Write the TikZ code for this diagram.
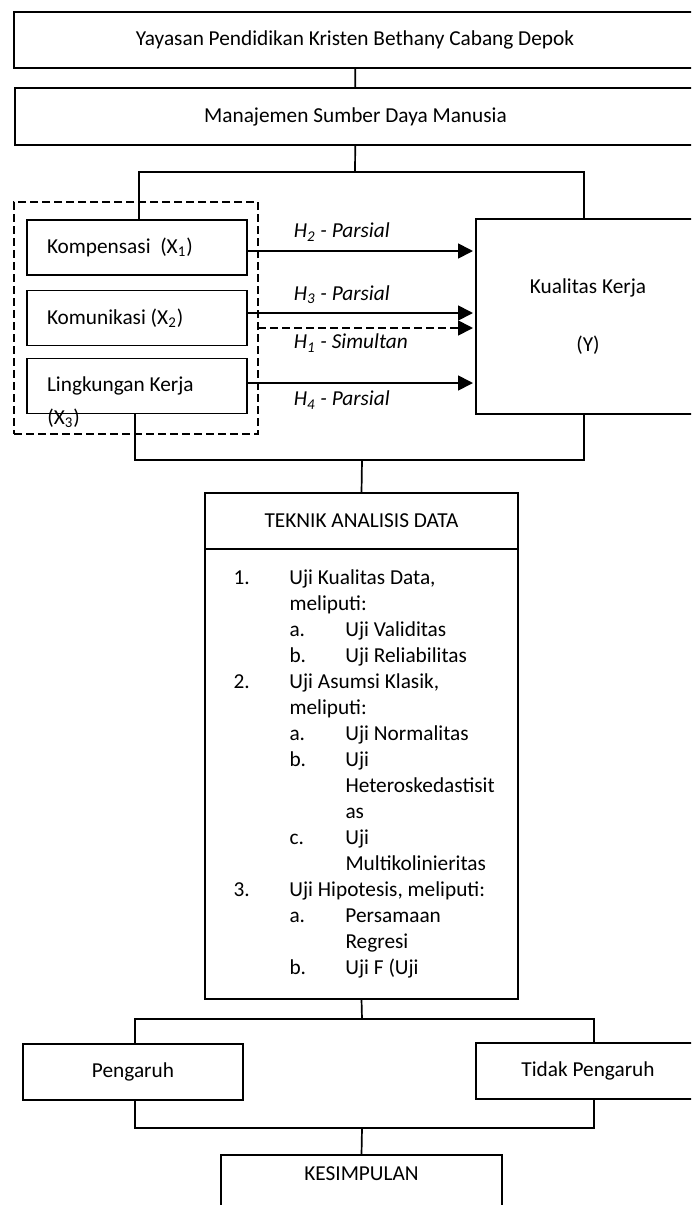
\documentclass[tikz,border=0pt]{standalone}
\usepackage{fontspec}
\setmainfont{Carlito}
\usetikzlibrary{arrows.meta,positioning}
\newcommand{\ujispan}[1]{\multicolumn{2}{@{}l@{}}{#1}}

\begin{document}
\begin{tikzpicture}[
    x=0.5pt, y=-0.5pt,
    every node/.style={font=\fontsize{10.65}{13}\selectfont},
    box/.style={draw, line width=0.85pt, inner sep=0pt, outer sep=0pt, align=center},
    varbox/.style={box, minimum width=110pt, minimum height=27.5pt,
        text width=90pt, inner xsep=10pt, align=flush left},
    link/.style={line width=0.85pt},
    arr/.style={line width=0.85pt, -{Triangle[length=7.5pt,width=7.5pt]},
        shorten >=1.5pt},
    lab/.style={font=\fontsize{10.65}{13}\selectfont\itshape,
        inner sep=0pt, anchor=west}
]
\useasboundingbox (0,0) rectangle (691,1205);
\clip (0,0) rectangle (691,1205);

% Institution
\node[box, minimum width=341pt, minimum height=28pt] (yys) at (355,40)
    {Yayasan Pendidikan Kristen Bethany Cabang Depok};
\node[box, minimum width=340.5pt, minimum height=28.5pt] (msdm) at (355.5,116.5)
    {Manajemen Sumber Daya Manusia};

\draw[link] (yys) -- (msdm);

% Independent variables
\node[varbox] (komp) at (137,247.5) {Kompensasi~~(X\textsubscript{1})};
\node[varbox] (komu) at (137,318) {Komunikasi (X\textsubscript{2})};
\node[varbox,
    label={[inner sep=0pt, anchor=west, xshift=10pt, yshift=-2.5pt]south west:(X\textsubscript{3})}]
    (ling) at (137,386) {Lingkungan Kerja};

\node[draw, line width=0.85pt, dash pattern=on 4pt off 2pt, inner sep=0pt, outer sep=0pt,
    minimum width=122pt, minimum height=116pt] (grp) at (136,318) {};

% Dependent variable
\node[box, minimum width=112pt, minimum height=97.5pt] (ky) at (588,316.5)
    {Kualitas Kerja\\[16pt](Y)};

\coordinate (busa) at (355,172);
\draw[link] (msdm) -- (busa);
\draw[link] ([xshift=1pt]komp.north) |- (busa) -| ([xshift=-2pt]ky.north);

% Hypotheses
\draw[arr] ([yshift=-1.75pt]komp.east) -- ([yshift=-1.75pt]komp.east -| ky.west)
    node[lab, pos=0, xshift=23pt, yshift=9.5pt] {H\textsubscript{2} - Parsial};
\draw[arr] ([yshift=2.5pt]komu.east) -- ([yshift=2.5pt]komu.east -| ky.west)
    node[lab, pos=0, xshift=23pt, yshift=9pt] {H\textsubscript{3} - Parsial};
\draw[arr, dash pattern=on 4pt off 2pt] ([yshift=-5pt]grp.east) -- ([yshift=-5pt]grp.east -| ky.west)
    node[lab, pos=0, xshift=17.5pt, yshift=-7.5pt] {H\textsubscript{1} - Simultan};
\draw[arr] ([yshift=1.5pt]ling.east) -- ([yshift=1.5pt]ling.east -| ky.west)
    node[lab, pos=0, xshift=23pt, yshift=-8.5pt] {H\textsubscript{4} - Parsial};

% Data analysis
\node[box, minimum width=156.5pt, minimum height=28pt] (teknik) at (361.5,521)
    {TEKNIK ANALISIS DATA};
\node[box, anchor=north, minimum width=156.5pt, minimum height=225pt] (uji)
    at (teknik.south) {%
    \begin{tabular}{@{}p{28pt}@{}p{28pt}@{}p{72pt}@{}}
    1. & \ujispan{Uji Kualitas Data,}\\
       & \ujispan{meliputi:}\\
       & a. & Uji Validitas\\
       & b. & Uji Reliabilitas\\
    2. & \ujispan{Uji Asumsi Klasik,}\\
       & \ujispan{meliputi:}\\
       & a. & Uji Normalitas\\
       & b. & Uji\\
       &    & Heteroskedastisit\\
       &    & as\\
       & c. & Uji\\
       &    & Multikolinieritas\\
    3. & \ujispan{Uji Hipotesis, meliputi:}\\
       & a. & Persamaan\\
       &    & Regresi\\
       & b. & Uji F (Uji
    \end{tabular}};

\coordinate (busb) at (362,460);
\draw[link] ([xshift=-1pt]ling.south) |- (busb) -| ([xshift=-2pt]ky.south);
\draw[link] (busb) -- (teknik.north);

% Result
\node[box, minimum width=110pt, minimum height=28pt] (pg) at (133,1072) {Pengaruh};
\node[box, minimum width=112pt, minimum height=28pt] (tp) at (588,1071) {Tidak Pengaruh};

\coordinate (busc) at (362,1019);
\draw[link] (uji.south) -- (busc);
\draw[link] ([xshift=1pt]pg.north) |- (busc) -| ([xshift=3pt]tp.north);

% Conclusion
\node[box, anchor=north, minimum width=140.5pt, text height=12.5pt, text depth=30pt]
    (kes) at (361.5,1155) {KESIMPULAN};

\coordinate (busd) at (362,1128);
\draw[link] ([xshift=1pt]pg.south) |- (busd) -| ([xshift=3pt]tp.south);
\draw[link] (busd) -- (kes.north);

\end{tikzpicture}
\end{document}
